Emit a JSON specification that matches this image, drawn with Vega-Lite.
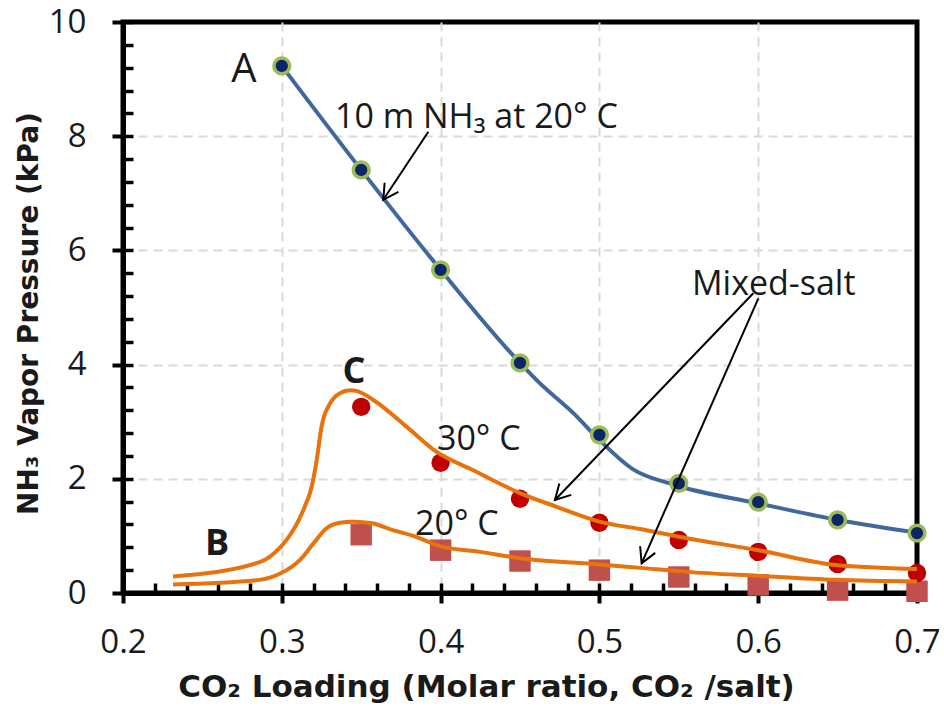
{
  "$schema": "https://vega.github.io/schema/vega-lite/v6.json",
  "width": 794,
  "height": 571,
  "autosize": {"type": "none"},
  "padding": {"left": 123, "top": 22, "right": 27, "bottom": 115},
  "background": "white",
  "config": {
    "view": {"stroke": "black", "strokeWidth": 5},
    "axis": {
      "domainColor": "black",
      "tickColor": "black",
      "labelFont": "Open Sans",
      "labelFontSize": 33,
      "labelColor": "#1a1a1a",
      "titleFont": "DejaVu Sans",
      "titleColor": "#1a1a1a",
      "gridColor": "#D9D9D9",
      "gridDash": [9, 6],
      "gridWidth": 2
    },
    "text": {"font": "Open Sans", "color": "#1a1a1a"}
  },
  "datasets": {
    "blue": [
      {"x": 0.3, "y": 9.23}, {"x": 0.35, "y": 7.41}, {"x": 0.4, "y": 5.66},
      {"x": 0.45, "y": 4.03}, {"x": 0.5, "y": 2.77}, {"x": 0.55, "y": 1.92},
      {"x": 0.6, "y": 1.59}, {"x": 0.65, "y": 1.28}, {"x": 0.7, "y": 1.05}
    ],
    "blueFit": [
      {"x": 0.3, "y": 9.23}, {"x": 0.35, "y": 7.41}, {"x": 0.4, "y": 5.66},
      {"x": 0.45, "y": 4.03}, {"x": 0.4626, "y": 3.67}, {"x": 0.4836, "y": 3.15},
      {"x": 0.5, "y": 2.68}, {"x": 0.521, "y": 2.17}, {"x": 0.5465, "y": 1.9},
      {"x": 0.6, "y": 1.57}, {"x": 0.65, "y": 1.28}, {"x": 0.7, "y": 1.06}
    ],
    "red30": [
      {"x": 0.35, "y": 3.26}, {"x": 0.4, "y": 2.28}, {"x": 0.45, "y": 1.65},
      {"x": 0.5, "y": 1.23}, {"x": 0.55, "y": 0.93}, {"x": 0.6, "y": 0.72},
      {"x": 0.65, "y": 0.51}, {"x": 0.7, "y": 0.35}
    ],
    "sq20": [
      {"x": 0.35, "y": 1.02}, {"x": 0.4, "y": 0.75}, {"x": 0.45, "y": 0.56},
      {"x": 0.5, "y": 0.4}, {"x": 0.55, "y": 0.28}, {"x": 0.6, "y": 0.14},
      {"x": 0.65, "y": 0.05}, {"x": 0.7, "y": 0.03}
    ],
    "fit30": [
      {"x": 0.2315, "y": 0.29}, {"x": 0.286, "y": 0.54}, {"x": 0.299, "y": 0.8},
      {"x": 0.303, "y": 0.93}, {"x": 0.3135, "y": 1.45}, {"x": 0.3188, "y": 1.86},
      {"x": 0.322, "y": 2.33}, {"x": 0.325, "y": 2.91}, {"x": 0.3304, "y": 3.32},
      {"x": 0.3366, "y": 3.5}, {"x": 0.343, "y": 3.55}, {"x": 0.347, "y": 3.54},
      {"x": 0.3576, "y": 3.38}, {"x": 0.3787, "y": 2.91}, {"x": 0.3975, "y": 2.47},
      {"x": 0.4206, "y": 2.15}, {"x": 0.45, "y": 1.75}, {"x": 0.473, "y": 1.51},
      {"x": 0.5, "y": 1.25}, {"x": 0.5256, "y": 1.12}, {"x": 0.555, "y": 0.96},
      {"x": 0.6, "y": 0.75}, {"x": 0.649, "y": 0.49}, {"x": 0.7, "y": 0.42}
    ],
    "fit20": [
      {"x": 0.2315, "y": 0.15}, {"x": 0.286, "y": 0.23}, {"x": 0.299, "y": 0.34},
      {"x": 0.3115, "y": 0.58}, {"x": 0.32, "y": 0.87}, {"x": 0.328, "y": 1.13},
      {"x": 0.3366, "y": 1.23}, {"x": 0.345, "y": 1.25}, {"x": 0.357, "y": 1.22},
      {"x": 0.368, "y": 1.12}, {"x": 0.385, "y": 0.98}, {"x": 0.3996, "y": 0.82},
      {"x": 0.4248, "y": 0.72}, {"x": 0.45, "y": 0.61}, {"x": 0.5, "y": 0.5},
      {"x": 0.5256, "y": 0.44}, {"x": 0.555, "y": 0.37}, {"x": 0.6, "y": 0.3},
      {"x": 0.649, "y": 0.23}, {"x": 0.7, "y": 0.2}
    ],
    "arrows": [
      {"id": "nh3", "x": 0.3923, "y": 8.079, "x2": 0.3639, "y2": 6.886},
      {"id": "m1", "x": 0.5969, "y": 5.249, "x2": 0.472, "y2": 1.629},
      {"id": "m2", "x": 0.6001, "y": 5.161, "x2": 0.5266, "y2": 0.52}
    ],
    "labelsReg": [
      {"text": "10 m NH₃ at 20° C", "x": 0.3335, "y": 8.14},
      {"text": "Mixed-salt", "x": 0.5583, "y": 5.22},
      {"text": "30° C", "x": 0.3977, "y": 2.5},
      {"text": "20° C", "x": 0.3839, "y": 1.02}
    ],
    "labelA": [{"text": "A", "x": 0.2762, "y": 8.95}],
    "labelsBold": [
      {"text": "C", "x": 0.3455, "y": 3.68},
      {"text": "B", "x": 0.2592, "y": 0.665}
    ]
  },
  "resolve": {"axis": {"x": "independent", "y": "independent"}},
  "layer": [
    {
      "data": {"name": "blueFit"},
      "mark": {"type": "line", "interpolate": "monotone", "color": "#41689C", "strokeWidth": 4},
      "encoding": {
        "x": {
          "field": "x", "type": "quantitative",
          "scale": {"domain": [0.2, 0.7], "nice": false, "zero": false},
          "axis": {
            "orient": "bottom",
            "values": [0.2, 0.3, 0.4, 0.5, 0.6, 0.7],
            "format": ".1f",
            "grid": true,
            "gridOpacity": {"condition": {"test": "datum.value < 0.25 || datum.value > 0.65", "value": 0}, "value": 1},
            "tickSize": 10, "tickWidth": 4, "domainWidth": 5,
            "labelPadding": 23, "labelFlush": false, "labelOverlap": false,
            "title": "CO₂ Loading (Molar ratio, CO₂ /salt)",
            "titleFontSize": 31, "titleFontWeight": "bold",
            "titleX": 363, "titleY": 103, "titleBaseline": "alphabetic", "titleAlign": "center"
          }
        },
        "y": {
          "field": "y", "type": "quantitative",
          "scale": {"domain": [0, 10], "nice": false, "zero": false},
          "axis": {
            "orient": "left",
            "values": [0, 2, 4, 6, 8, 10],
            "format": "d",
            "grid": true,
            "gridOpacity": {"condition": {"test": "datum.value > 9.5 || datum.value < 0.5", "value": 0}, "value": 1},
            "tickSize": 11, "tickWidth": 4, "domainWidth": 5,
            "labelPadding": 26, "labelFlush": false, "labelOverlap": false,
            "title": "NH₃ Vapor Pressure (kPa)",
            "titleFontSize": 28, "titleFontWeight": "bold",
            "titleAngle": 270, "titleX": -94, "titleY": 291, "titleBaseline": "middle", "titleAlign": "center"
          }
        }
      }
    },
    {
      "data": {"name": "blue"},
      "mark": {"type": "point", "shape": "circle", "filled": true, "fill": "#0B2566", "stroke": "#9BBB59", "strokeWidth": 3.5, "size": 250, "opacity": 1},
      "encoding": {
        "x": {"field": "x", "type": "quantitative", "axis": null},
        "y": {"field": "y", "type": "quantitative", "axis": null}
      }
    },
    {
      "data": {"name": "sq20"},
      "mark": {"type": "point", "shape": "square", "filled": true, "color": "#C0504D", "size": 460, "opacity": 1},
      "encoding": {
        "x": {"field": "x", "type": "quantitative", "axis": null},
        "y": {"field": "y", "type": "quantitative", "axis": null}
      }
    },
    {
      "data": {"name": "red30"},
      "mark": {"type": "point", "shape": "circle", "filled": true, "color": "#C00000", "size": 340, "opacity": 1},
      "encoding": {
        "x": {"field": "x", "type": "quantitative", "axis": null},
        "y": {"field": "y", "type": "quantitative", "axis": null}
      }
    },
    {
      "data": {"name": "fit30"},
      "mark": {"type": "line", "interpolate": "monotone", "color": "#E8720C", "strokeWidth": 4},
      "encoding": {
        "x": {"field": "x", "type": "quantitative", "axis": null},
        "y": {"field": "y", "type": "quantitative", "axis": null}
      }
    },
    {
      "data": {"name": "fit20"},
      "mark": {"type": "line", "interpolate": "monotone", "color": "#E8720C", "strokeWidth": 4},
      "encoding": {
        "x": {"field": "x", "type": "quantitative", "axis": null},
        "y": {"field": "y", "type": "quantitative", "axis": null}
      }
    },
    {
      "data": {"name": "arrows"},
      "mark": {"type": "rule", "color": "black", "strokeWidth": 2},
      "encoding": {
        "x": {"field": "x", "type": "quantitative", "axis": null},
        "y": {"field": "y", "type": "quantitative", "axis": null},
        "x2": {"field": "x2"},
        "y2": {"field": "y2"}
      }
    },
    {
      "data": {"name": "arrows"},
      "transform": [{"filter": "datum.id == 'nh3'"}],
      "mark": {"type": "point", "shape": "M -0.55 1 L 0 0 L 0.55 1", "filled": false, "stroke": "black", "strokeWidth": 2, "size": 900, "angle": 213.4, "opacity": 1},
      "encoding": {
        "x": {"field": "x2", "type": "quantitative", "axis": null},
        "y": {"field": "y2", "type": "quantitative", "axis": null}
      }
    },
    {
      "data": {"name": "arrows"},
      "transform": [{"filter": "datum.id == 'm1'"}],
      "mark": {"type": "point", "shape": "M -0.55 1 L 0 0 L 0.55 1", "filled": false, "stroke": "black", "strokeWidth": 2, "size": 900, "angle": 223.8, "opacity": 1},
      "encoding": {
        "x": {"field": "x2", "type": "quantitative", "axis": null},
        "y": {"field": "y2", "type": "quantitative", "axis": null}
      }
    },
    {
      "data": {"name": "arrows"},
      "transform": [{"filter": "datum.id == 'm2'"}],
      "mark": {"type": "point", "shape": "M -0.55 1 L 0 0 L 0.55 1", "filled": false, "stroke": "black", "strokeWidth": 2, "size": 900, "angle": 203.75, "opacity": 1},
      "encoding": {
        "x": {"field": "x2", "type": "quantitative", "axis": null},
        "y": {"field": "y2", "type": "quantitative", "axis": null}
      }
    },
    {
      "data": {"name": "labelsReg"},
      "mark": {"type": "text", "align": "left", "baseline": "alphabetic", "fontSize": 34},
      "encoding": {
        "x": {"field": "x", "type": "quantitative", "axis": null},
        "y": {"field": "y", "type": "quantitative", "axis": null},
        "text": {"field": "text"}
      }
    },
    {
      "data": {"name": "labelA"},
      "mark": {"type": "text", "align": "center", "baseline": "alphabetic", "fontSize": 40},
      "encoding": {
        "x": {"field": "x", "type": "quantitative", "axis": null},
        "y": {"field": "y", "type": "quantitative", "axis": null},
        "text": {"field": "text"}
      }
    },
    {
      "data": {"name": "labelsBold"},
      "mark": {"type": "text", "align": "center", "baseline": "alphabetic", "fontSize": 36, "fontWeight": "bold"},
      "encoding": {
        "x": {"field": "x", "type": "quantitative", "axis": null},
        "y": {"field": "y", "type": "quantitative", "axis": null},
        "text": {"field": "text"}
      }
    },
    {
      "data": {"name": "blue"},
      "mark": {"type": "point", "opacity": 0},
      "encoding": {
        "x": {
          "field": "x", "type": "quantitative",
          "axis": {
            "orient": "bottom",
            "values": [0.2, 0.22, 0.24, 0.26, 0.28, 0.3, 0.32, 0.34, 0.36, 0.38, 0.4, 0.42, 0.44, 0.46, 0.48, 0.5, 0.52, 0.54, 0.56, 0.58, 0.6, 0.62, 0.64, 0.66, 0.68, 0.7],
            "labels": false, "domain": false, "grid": false, "ticks": true,
            "tickSize": -10, "tickWidth": 3.5, "title": null
          }
        },
        "y": {
          "field": "y", "type": "quantitative",
          "axis": {
            "orient": "left",
            "values": [0, 0.4, 0.8, 1.2, 1.6, 2, 2.4, 2.8, 3.2, 3.6, 4, 4.4, 4.8, 5.2, 5.6, 6, 6.4, 6.8, 7.2, 7.6, 8, 8.4, 8.8, 9.2, 9.6, 10],
            "labels": false, "domain": false, "grid": false, "ticks": true,
            "tickSize": -10, "tickWidth": 3.5, "title": null
          }
        }
      }
    }
  ]
}
